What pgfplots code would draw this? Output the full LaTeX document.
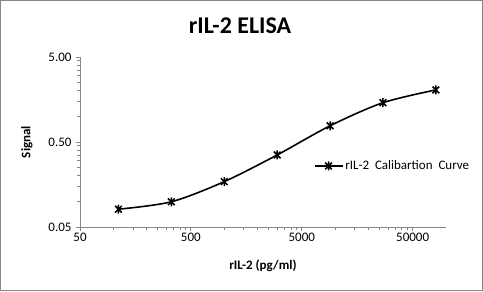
\documentclass[border=0pt]{standalone}
\usepackage{pgfplots}
\pgfplotsset{compat=1.18}
\usepackage{fontspec}
\setmainfont{Carlito}
\definecolor{axgray}{RGB}{134,134,134}
\pgfdeclareplotmark{xstar}{%
  \pgfpathmoveto{\pgfqpoint{0pt}{\pgfplotmarksize}}%
  \pgfpathlineto{\pgfqpoint{0pt}{-\pgfplotmarksize}}%
  \pgfpathmoveto{\pgfqpoint{-0.75\pgfplotmarksize}{0.75\pgfplotmarksize}}%
  \pgfpathlineto{\pgfqpoint{0.75\pgfplotmarksize}{-0.75\pgfplotmarksize}}%
  \pgfpathmoveto{\pgfqpoint{-0.75\pgfplotmarksize}{-0.75\pgfplotmarksize}}%
  \pgfpathlineto{\pgfqpoint{0.75\pgfplotmarksize}{0.75\pgfplotmarksize}}%
  \pgfusepathqstroke}
\begin{document}
\begin{tikzpicture}[x=1bp,y=1bp]
\useasboundingbox (0,0) rectangle (483,291);
\draw[axgray,line width=1bp] (0.5,0.5) rectangle (482.5,290.5);
\node[font=\fontsize{24bp}{28bp}\selectfont\bfseries] at (240,265) {rIL-2 ELISA};
\begin{axis}[
  at={(80bp,64bp)}, anchor=south west,
  scale only axis, width=366bp, height=170bp,
  xmode=log, ymode=log,
  xmin=50, xmax=100000, ymin=0.05, ymax=5,
  axis x line*=bottom, axis y line*=left,
  axis line style={axgray, line width=0.8bp, -},
  xtick={50,500,5000,50000}, xticklabels={50,500,5000,50000},
  ytick={0.05,0.5,5}, yticklabels={0.05,0.50,5.00},
  minor tick num=0, minor xtick={}, minor ytick={},
  tick style={axgray, line width=0.8bp},
  major tick length=4bp,
  xtick align=outside, ytick align=outside,
  tick label style={font=\fontsize{13bp}{15bp}\selectfont, black},
  xticklabel style={yshift=1bp},
  yticklabel style={xshift=-1bp},
  xlabel={rIL-2 (pg/ml)}, ylabel={Signal},
  label style={font=\fontsize{13bp}{15bp}\selectfont\bfseries},
  xlabel style={at={(axis description cs:0.5,-0.228)}, anchor=center},
  ylabel style={at={(axis description cs:-0.145,0.5)}, anchor=center},
  legend style={at={(axis description cs:0.638,0.359)}, anchor=west, draw=none, fill=none,
    font=\fontsize{13bp}{15bp}\selectfont, inner xsep=0pt, inner ysep=0pt, cells={anchor=west}},
  legend image code/.code={\draw[#1, mark repeat=2, mark phase=2] plot coordinates {(0bp,0bp) (14bp,0bp) (28bp,0bp)};},
  clip=false,
]
\addplot[black, line width=1.6bp, smooth, mark=xstar, mark size=4.5bp,
  mark options={line width=1.5bp, solid}]
  coordinates {
  (111,0.081) (333,0.099) (1000,0.171) (3000,0.352) (9000,0.776) (27000,1.45) (81000,2.05)
  };
\addlegendentry{rIL-2\ \ Calibartion\ \ Curve}
\end{axis}
\end{tikzpicture}
\end{document}
